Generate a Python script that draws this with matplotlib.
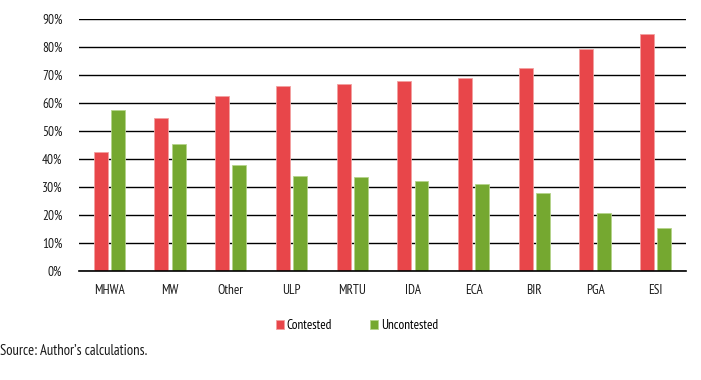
import numpy as np
import matplotlib.pyplot as plt
from matplotlib.ticker import PercentFormatter

# Data
categories = ['MHWA', 'MW', 'Other', 'ULP', 'MRTU', 'IDA', 'ECA', 'BIR', 'PGA', 'ESI']
contested = [42.5, 54.6, 62.3, 66.1, 66.7, 67.8, 69.0, 72.4, 79.4, 84.6]
uncontested = [57.5, 45.4, 37.7, 33.9, 33.3, 32.2, 31.0, 27.6, 20.6, 15.4]

plt.rcParams['font.family'] = ['PT Sans Narrow', 'DejaVu Sans']

red = '#E8464A'
green = '#75A830'

fig = plt.figure(figsize=(7.01, 3.80), dpi=100)
ax = fig.add_axes([0.1127, 0.288, 0.866, 0.662])

x = np.arange(len(categories))
w = 0.23
ax.bar(x - 0.142, contested, w, color=red, edgecolor='#F2A0A0', linewidth=0.6,
       label='Contested', zorder=3)
ax.bar(x + 0.142, uncontested, w, color=green, edgecolor='#B5D38A', linewidth=0.6,
       label='Uncontested', zorder=3)

ax.set_xlim(-0.5, len(categories) - 0.5)
ax.set_ylim(0, 90)
ax.set_yticks(np.arange(0, 91, 10))
ax.yaxis.set_major_formatter(PercentFormatter(decimals=0))
ax.set_xticks(x)
ax.set_xticklabels(categories)
ax.grid(axis='y', color='black', linewidth=1.0, zorder=0)
ax.axhline(0, color='black', linewidth=1.2, zorder=4, clip_on=False)
for s in ax.spines.values():
    s.set_visible(False)
ax.tick_params(length=0, labelsize=9.5, colors='#1a1a1a')
ax.tick_params(axis='x', pad=10)
ax.tick_params(axis='y', pad=12)

fig.legend(loc='center', bbox_to_anchor=(0.509, 0.143), ncol=2, frameon=False,
           fontsize=9.5, handlelength=0.62, handleheight=0.62, handletextpad=0.2,
           columnspacing=2.9)
fig.text(0.0, 0.065, "Source: Author\u2019s calculations.", fontsize=10.5, color='#1a1a1a')

fig.savefig('out.png', dpi=100)
